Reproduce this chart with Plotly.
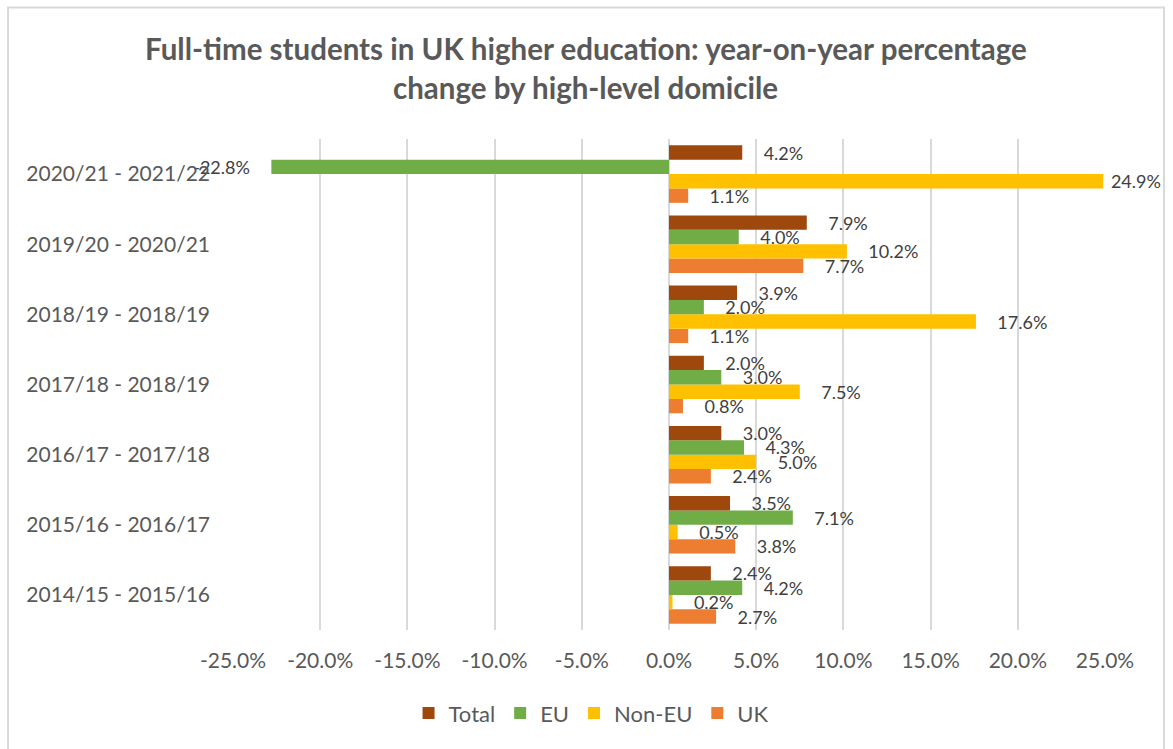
import plotly.graph_objects as go

# Year-on-year change (%) in full-time students by high-level domicile
periods = [
    "2014/15 - 2015/16",
    "2015/16 - 2016/17",
    "2016/17 - 2017/18",
    "2017/18 - 2018/19",
    "2018/19 - 2018/19",
    "2019/20 - 2020/21",
    "2020/21 - 2021/22",
]
total = [2.4, 3.5, 3.0, 2.0, 3.9, 7.9, 4.2]
eu = [4.2, 7.1, 4.3, 3.0, 2.0, 4.0, -22.8]
non_eu = [0.2, 0.5, 5.0, 7.5, 17.6, 10.2, 24.9]
uk = [2.7, 3.8, 2.4, 0.8, 1.1, 7.7, 1.1]

x_ticks = [-25, -20, -15, -10, -5, 0, 5, 10, 15, 20, 25]
x_tick_labels = ["-25.0%", "-20.0%", "-15.0%", "-10.0%", "-5.0%", "0.0%",
                 "5.0%", "10.0%", "15.0%", "20.0%", "25.0%"]

FONT = "Lato"
GREY = "#595959"
LABEL_GREY = "#404040"
X_MAX = 25


def value_labels(values):
    out = []
    for v in values:
        s = f"{v:.1f}%"
        # labels of bars that reach the axis end sit closer to the bar
        pad = "\u00a0" * (1 if abs(v) > X_MAX - 1 else 4)
        out.append(s + pad if v < 0 else pad + s)
    return out


# traces listed bottom-to-top within each group; legend is reversed
series = [
    ("UK", uk, "#ED7D31"),
    ("Non-EU", non_eu, "#FFC000"),
    ("EU", eu, "#70AD47"),
    ("Total", total, "#9E480E"),
]

fig = go.Figure()
for name, vals, color in series:
    fig.add_trace(go.Bar(
        name=name,
        y=periods,
        x=vals,
        orientation="h",
        marker=dict(color=color, line=dict(width=0)),
        text=value_labels(vals),
        textposition="outside",
        textfont=dict(family=FONT, size=18, color=LABEL_GREY),
        constraintext="none",
        cliponaxis=False,
        hoverinfo="x+y+name",
    ))

fig.update_layout(
    width=1173,
    height=749,
    margin=dict(l=233, r=68, t=139, b=119),
    paper_bgcolor="white",
    plot_bgcolor="white",
    barmode="group",
    bargap=0.18,
    bargroupgap=0,
    font=dict(family=FONT, color=GREY),
    showlegend=True,
    legend=dict(
        orientation="h",
        traceorder="reversed",
        x=0.4106, xanchor="center",
        y=-0.1694, yanchor="middle",
        font=dict(family=FONT, size=22, color=GREY),
        itemwidth=30,
    ),
    xaxis=dict(
        range=[-X_MAX, X_MAX],
        tickvals=x_ticks,
        ticktext=x_tick_labels,
        showgrid=True,
        gridcolor="#d9d9d9",
        gridwidth=2,
        zeroline=False,
        showline=False,
        ticks="",
        ticklabelstandoff=16,
        tickfont=dict(family=FONT, size=21, color=GREY),
    ),
    yaxis=dict(
        categoryorder="array",
        categoryarray=periods,
        showgrid=False,
        zeroline=False,
        showline=False,
        ticks="",
        ticklabelstandoff=22,
        tickfont=dict(family=FONT, size=21, color=GREY),
    ),
    annotations=[
        dict(text="<b>Full-time students in UK higher education: year-on-year percentage</b>",
             xref="paper", yref="paper", x=0.4048, y=1.1845,
             xanchor="center", yanchor="middle", showarrow=False,
             font=dict(family=FONT, size=29.5, color=GREY)),
        dict(text="<b>change by high-level domicile</b>",
             xref="paper", yref="paper", x=0.4048, y=1.1051,
             xanchor="center", yanchor="middle", showarrow=False,
             font=dict(family=FONT, size=29.5, color=GREY)),
    ],
    shapes=[
        dict(type="rect", xref="paper", yref="paper",
             x0=-0.258, x1=1.0677, y0=-0.27, y1=1.268,
             line=dict(color="#d9d9d9", width=2), layer="below"),
    ],
)

fig.write_html("out.html")
